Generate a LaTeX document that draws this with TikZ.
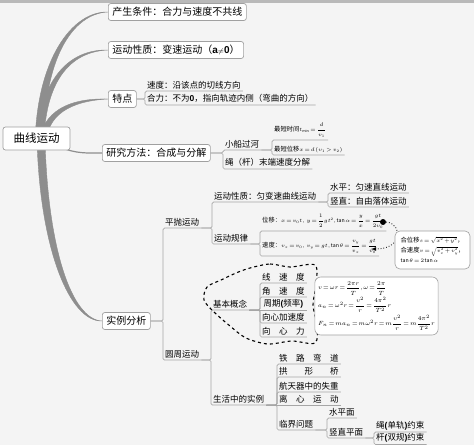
\RequirePackage{fix-cm}
\documentclass[tikz,border=0pt]{standalone}
\usepackage{fontspec}
\setmainfont{Noto Sans CJK SC}
\newfontfamily\lat{Liberation Sans}
\usepackage{amsmath}

\definecolor{bg}{HTML}{F4F4F4}
\definecolor{trunk}{HTML}{8E8E8E}
\definecolor{wire}{HTML}{A6A6A6}
\definecolor{frame}{HTML}{A0A0A0}

\newcommand{\tightmath}{\thickmuskip=2.5mu plus 1mu\medmuskip=2mu\thinmuskip=1.5mu}
\newcommand{\cnlab}[1]{{\fontsize{6.3}{7}\selectfont #1}}

\tikzset{
  topic/.style={draw=frame, fill=white, rounded corners=2.5pt, line width=0.7pt,
    inner xsep=4pt, minimum height=17pt, font=\fontsize{10}{12}\selectfont, anchor=west},
  sub/.style={anchor=south west, inner xsep=2pt, inner ysep=2pt, font=\fontsize{8.5}{10}\selectfont},
  formula/.style={sub, font=\fontsize{5.2}{6.5}\selectfont\tightmath},
  link/.style={draw=wire, line width=0.7pt, rounded corners=1.5pt},
  limb/.style={fill=trunk, draw=trunk, line width=0.4pt},
  note/.style={draw=frame, fill=white, line width=0.6pt, align=left},
}

\begin{document}
\begin{tikzpicture}[x=1pt,y=-1pt]
        \fill[bg] (0,0) rectangle (474,445);
        \useasboundingbox (0,0) rectangle (474,445);
        \fill[gray!55] (0,0) rectangle (474,2.5);

        % main topics
        \node[topic] (cond) at (108,12) {产生条件：合力与速度不共线};
        \node[topic] (prop) at (108,50) {运动性质：变速运动（{\lat\bfseries a}{\scriptsize$\neq$}{\lat\bfseries 0}）};
        \node[topic] (feat) at (108,99) {特点};
        \node[topic] (method) at (102,153) {研究方法：合成与分解};
        \node[topic] (case) at (102,321) {实例分析};

        % thick branches from the root
        \fill[limb] (35,146) .. controls (36,60) and (72,11) .. (cond.west) .. controls (72,13.5) and (43,60) .. (44,146) -- cycle;
        \fill[limb] (36,146) .. controls (38,90) and (62,49) .. (prop.west) .. controls (63,52) and (44,92) .. (44,146) -- cycle;
        \fill[limb] (38,146) .. controls (42,110) and (70,98) .. (feat.west) .. controls (70,101) and (46,115) .. (46,146) -- cycle;
        \fill[limb] (37,140) .. controls (40,250) and (70,322) .. (case.west) .. controls (72,319.5) and (48,250) .. (45,140) -- cycle;
        \draw[trunk, line width=1.2pt] (60,147) .. controls (76,154) and (88,153) .. (method.west);

        \node[topic, anchor=center, minimum width=67pt, minimum height=23pt,
              font=\fontsize{11.5}{13}\selectfont] (root) at (36.5,138.5) {曲线运动};

        % 特点
        \node[sub] (speed) at (145,91) {速度：沿该点的切线方向};
        \node[sub] (force) at (145,105) {合力：不为{\lat\bfseries 0}，指向轨迹内侧（弯曲的方向）};
        \draw[link] (feat.east) -| (speed.south west) -- (speed.south east);
        \draw[link] (feat.east) -| (force.south west) -- (force.south east);

        % 研究方法
        \node[sub] (boat) at (223,150) {小船过河};
        \node[sub] (rope) at (223,169) {绳（杆）末端速度分解};
        \draw[link] (method.east) -| (boat.south west) -- (boat.south east);
        \draw[link] (method.east) -| (rope.south west) -- (rope.south east);
        \node[formula] (tmin) at (272,140) {\cnlab{最短时间}$t_{\min}=\dfrac{d}{v_1}$};
        \node[formula] (xmin) at (272,155) {\cnlab{最短位移}$x=d\,(v_1>v_2)$};
        \draw[link] (boat.south east) -| (tmin.south west) -- (tmin.south east);
        \draw[link] (boat.south east) -| (xmin.south west) -- (xmin.south east);

        % 实例分析
        \node[sub] (throw) at (163,228) {平抛运动};
        \node[sub] (circ) at (163,360) {圆周运动};
        \draw[link] (case.east) -| (throw.south west) -- (throw.south east);
        \draw[link] (case.east) -| (circ.south west) -- (circ.south east);

        % 平抛运动
        \node[sub] (tprop) at (212,202) {运动性质：匀变速曲线运动};
        \node[sub] (tlaw) at (212,244) {运动规律};
        \draw[link] (throw.south east) -| (tprop.south west) -- (tprop.south east);
        \draw[link] (throw.south east) -| (tlaw.south west) -- (tlaw.south east);
        \node[sub] (horiz) at (328,193) {水平：匀速直线运动};
        \node[sub] (vert) at (328,207) {竖直：自由落体运动};
        \draw[link] (tprop.south east) -| (horiz.south west) -- (horiz.south east);
        \draw[link] (tprop.south east) -| (vert.south west) -- (vert.south east);
        \node[formula] (disp) at (260,231) {\cnlab{位移：}$x=v_0t,\ y=\dfrac{1}{2}gt^2,\tan\alpha=\dfrac{y}{x}=\dfrac{gt}{2v_0}$};
        \node[formula] (vel) at (260,256) {\cnlab{速度：}$v_x=v_0,\ v_y=gt,\tan\theta=\dfrac{v_y}{v_x}=\dfrac{gt}{v_0}$};
        \draw[link] (tlaw.south east) -| (disp.south west) -- (disp.south east);
        \draw[link] (tlaw.south east) -| (vel.south west) -- (vel.south east);

        \node[circle, fill=black, inner sep=0pt, minimum size=6pt] (dot) at (383,222) {};
        \coordinate (veltip) at (371,249);
        \draw[-latex, dotted, line width=0.8pt] (dot.east) .. controls (403,224) and (403,249) .. (veltip);

        \node[note, rounded corners=5pt, minimum width=75pt, minimum height=38pt,
              font=\fontsize{5.2}{6}\selectfont\tightmath] (sum) at (432.5,250)
              {\cnlab{合位移}$s=\sqrt{x^2+y^2}$\cnlab{，}\\[2pt]\cnlab{合速度}$v=\sqrt{v_x^2+v_y^2}$\cnlab{，}\\[2pt]$\tan\theta=2\tan\alpha$};

        % 圆周运动
        \node[sub] (basic) at (211,310) {基本概念};
        \node[sub] (life) at (211,405) {生活中的实例};
        \draw[link] (circ.south east) -| (basic.south west) -- (basic.south east);
        \draw[link] (circ.south east) -| (life.south west) -- (life.south east);

        \node[sub] (linv) at (260,283) {\makebox[5em][s]{线\hfil 速\hfil 度}};
        \node[sub] (angv) at (260,297) {\makebox[5em][s]{角\hfil 速\hfil 度}};
        \node[sub] (period) at (260,310) {\makebox[5em]{周期{\lat\bfseries(}频率{\lat\bfseries)}}};
        \node[sub] (cacc) at (260,323) {向心加速度};
        \node[sub] (cforce) at (260,337) {\makebox[5em][s]{向\hfil 心\hfil 力}};
        \draw[link] (basic.south east) -| (linv.south west) -- (linv.south east);
        \draw[link] (basic.south east) -| (angv.south west) -- (angv.south east);
        \draw[link] (basic.south east) -- (period.south east);
        \draw[link] (basic.south east) -| (cacc.south west) -- (cacc.south east);
        \draw[link] (basic.south east) -| (cforce.south west) -- (cforce.south east);

        \draw[dashed, line width=1.1pt] plot[smooth cycle] coordinates {(250,268) (270,264) (290,267) (315,265)
              (316,285) (313,305) (317,325) (315,343) (292,341) (268,344) (246,338) (230,326) (214,312)
              (204,300) (207,287) (221,280) (236,273)};

        \node[note, rounded corners=6pt, minimum width=113pt, minimum height=58pt,
              font=\fontsize{6}{7}\selectfont\tightmath] (cform) at (376.5,306)
              {$v=\omega r=\dfrac{2\pi r}{T},\omega=\dfrac{2\pi}{T}$\\[1pt]
               $a_n=\omega^2r=\dfrac{v^2}{r}=\dfrac{4\pi^2}{T^2}r$\\[1pt]
               $F_n=ma_n=m\omega^2r=m\dfrac{v^2}{r}=m\dfrac{4\pi^2}{T^2}r$};

        % 生活中的实例
        \node[sub] (rail) at (277,364) {\makebox[7em][s]{铁\hfil 路\hfil 弯\hfil 道}};
        \node[sub] (arch) at (277,377) {\makebox[7em][s]{拱\hfil 形\hfil 桥}};
        \node[sub] (craft) at (277,392) {航天器中的失重};
        \node[sub] (centri) at (277,405) {\makebox[7em][s]{离\hfil 心\hfil 运\hfil 动}};
        \node[sub] (crit) at (277,430) {临界问题};
        \draw[link] (life.south east) -| (rail.south west) -- (rail.south east);
        \draw[link] (life.south east) -| (arch.south west) -- (arch.south east);
        \draw[link] (life.south east) -| (craft.south west) -- (craft.south east);
        \draw[link] (life.south east) -- (centri.south east);
        \draw[link] (life.south east) -| (crit.south west) -- (crit.south east);

        \node[sub] (flat) at (327,418) {水平面};
        \node[sub] (vplane) at (327,438) {竖直平面};
        \draw[link] (crit.south east) -| (flat.south west) -- (flat.south east);
        \draw[link] (crit.south east) -| (vplane.south west) -- (vplane.south east);
        \node[sub] (string) at (374,432) {绳{\lat\bfseries(}单轨{\lat\bfseries)}约束};
        \node[sub] (rod) at (374,444.5) {杆{\lat\bfseries(}双规{\lat\bfseries)}约束};
        \draw[link] (vplane.south east) -| (string.south west) -- (string.south east);
        \draw[link] (vplane.south east) -| (rod.south west) -- (rod.south east);
    \end{tikzpicture}
\end{document}
